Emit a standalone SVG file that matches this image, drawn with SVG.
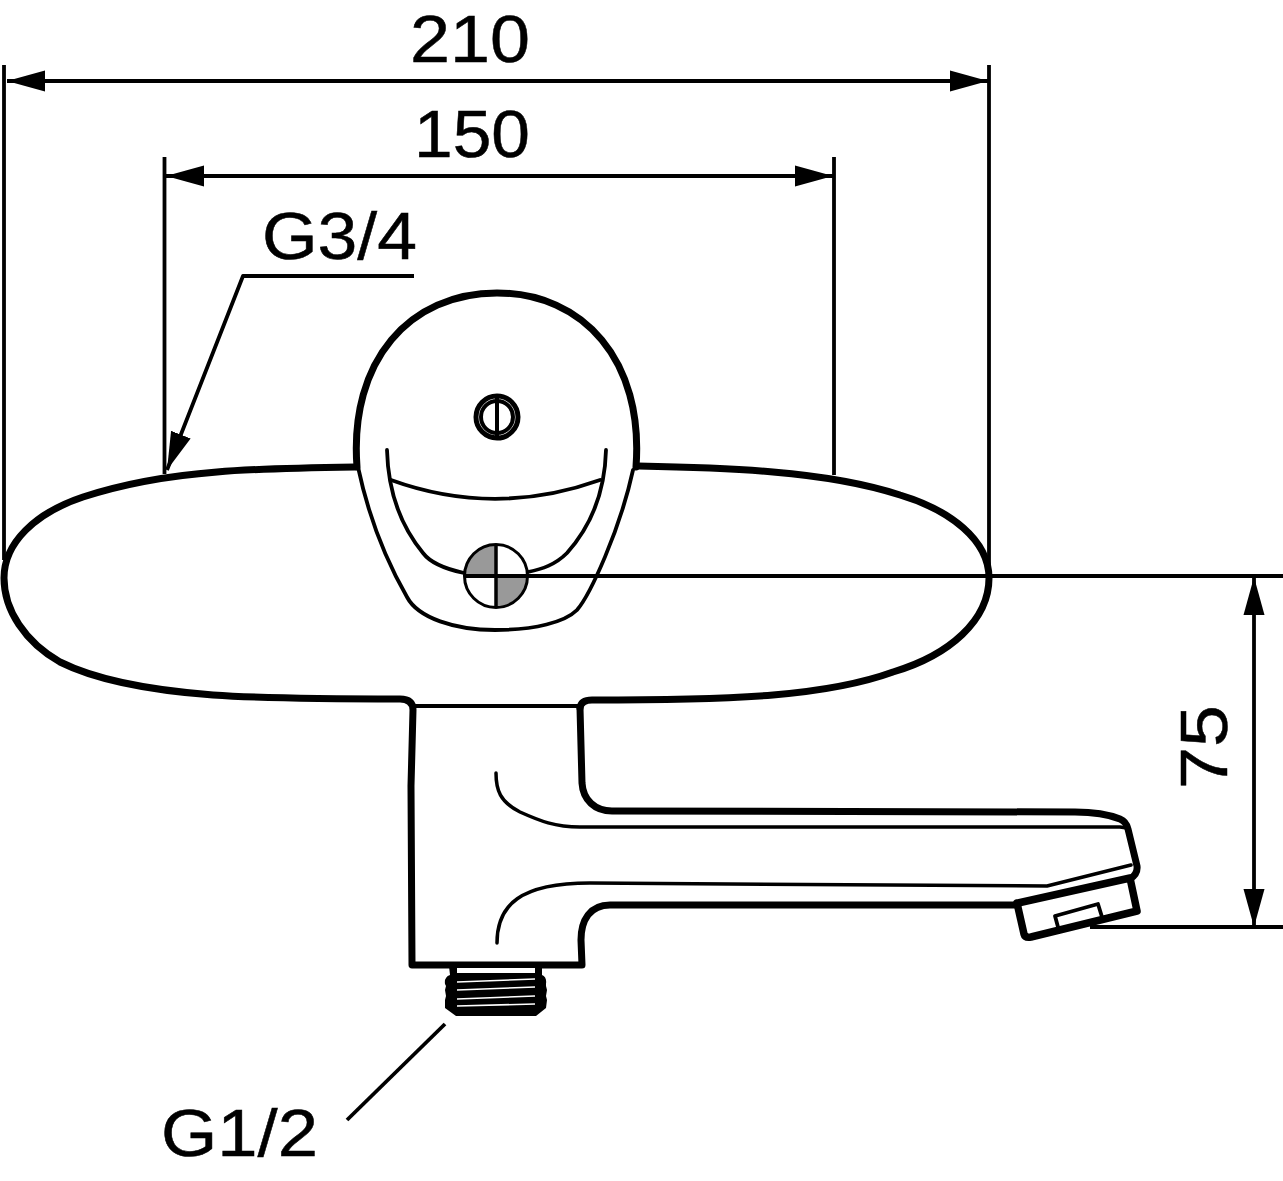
<svg xmlns="http://www.w3.org/2000/svg" width="1283" height="1181" viewBox="0 0 1283 1181">
<style>
text{font-family:"Liberation Sans",Arial,sans-serif;font-size:67px;fill:#000;stroke:#000;stroke-width:.5}
.thick,.mid,.thin,.dim,.tip{fill:none;stroke:#000;stroke-linecap:round;stroke-linejoin:round}
.thick{stroke-width:7}.tip{stroke-width:7.500}.mid{stroke-width:3.800}.thin{stroke-width:3.500}.dim{stroke-width:3.800;stroke-linecap:butt}
</style>
<defs>
<marker id="arrow" markerUnits="userSpaceOnUse" markerWidth="40" markerHeight="24" refX="38" refY="12" orient="auto-start-reverse"><path d="M0 1.500L38 12L0 22.500Z" fill="#000"/></marker>
</defs>
<rect width="1283" height="1181" fill="#fff"/>
<g id="body">
<path class="thick" d="M355 467C290 468 250 469 217 472C165 476 120 485 83 497C35 513 4 543 4 578C4 610 25 642 60 662C100 682 160 691 213 695C270 699 340 699 400 699Q413 699 413 710L411 786L412 965L582 965L581 940C581 920 590 905 610 905L1018 905"/>
<path class="thick" d="M580 708Q581 700 592 700C660 700 720 699 773 695C820 691 860 684 893 672C950 655 989 620 989 578C989 540 950 510 900 495C860 482 820 476 773 472C730 468 690 467 638 466"/>
<path class="thick" d="M580 708L582 783C583 800 595 811 612 811L1075 812C1095 812 1110 815 1120 819C1125 821 1127 825 1128 829L1137 866Q1138 874 1130 879"/>
<path class="mid" d="M414 706H579"/>
<path class="thin" d="M496 773C496 790 500 802 520 812C540 821 555 827 580 827H1120L1127 828"/>
<path class="thin" d="M497 943C497 905 520 883 590 883L1047 886L1131 865"/>
</g>
<g id="knob">
<path class="thick" d="M357 467C349 360 410 293 497 293C583 293 644 360 636 467"/>
<path class="mid" d="M358 467C365 500 380 550 407 597C418 618 455 630 495 630C535 630 565 622 577 610C590 595 620 530 633 470"/>
<path class="mid" d="M387 450C388 490 400 525 423 553C432 565 450 570 464 573"/>
<path class="mid" d="M606 450C605 490 592 525 567 553C555 565 542 569 528 572"/>
<path class="mid" d="M391 480C460 505 530 505 600 480"/>
</g>
<g id="screw">
<circle cx="497" cy="417" r="21" fill="none" stroke="#000" stroke-width="5"/>
<circle cx="497" cy="417" r="16" fill="none" stroke="#000" stroke-width="4"/>
<path d="M497 397V437" stroke="#000" stroke-width="4"/>
</g>
<g id="dial">
<circle cx="496" cy="576" r="31.500" fill="#fff"/>
<path d="M496 576V544.500A31.500 31.500 0 0 0 464.500 576Z" fill="#999"/>
<path d="M496 576V607.500A31.500 31.500 0 0 0 527.500 576Z" fill="#999"/>
<circle cx="496" cy="576" r="31.500" fill="none" stroke="#000" stroke-width="3"/>
<path d="M496 544V608" stroke="#000" stroke-width="3.500"/>
</g>
<g id="spout-tip">
<path class="tip" d="M1017 903L1024 934Q1025 938 1031 937L1137 911L1130 878L1018 903" fill="#fff"/>
<path class="mid" d="M1055 916L1098 904L1102 917M1055 916L1058 927"/>
</g>
<g id="thread">
<path d="M449 966H542V975Q547 977 546 984V986L547 990L546 996L547 1000L546 1008L536 1016H456L445 1008V1000L446 996L445 990L446 986L445 984Q444 977 450 975Z" fill="#000"/>
<path d="M457 968H535V973H457Z" fill="#fff"/>
<path d="M457 982L535 979M457 990L535 987M457 999L535 996M457 1006L535 1004" stroke="#fff" stroke-width="1.600" fill="none"/>
</g>
<g id="connectors">
<path class="dim" d="M4 65V560M989 65V570M164.500 157V474M834 157V475"/>
<path class="dim" d="M7 81H988" marker-start="url(#arrow)" marker-end="url(#arrow)"/>
<path class="dim" d="M166 176H833" marker-start="url(#arrow)" marker-end="url(#arrow)"/>
<path class="dim" d="M414 276H243L167 470" marker-end="url(#arrow)"/>
<path class="dim" d="M464 576H1283M1090 927H1283"/>
<path class="dim" d="M1254 577V927" marker-start="url(#arrow)" marker-end="url(#arrow)"/>
<path class="dim" d="M445 1024L347 1120"/>
</g>
<g id="labels">
<text x="410" y="62" textLength="120" lengthAdjust="spacingAndGlyphs">210</text>
<text x="414" y="157" textLength="116" lengthAdjust="spacingAndGlyphs">150</text>
<text x="262" y="259" textLength="155" lengthAdjust="spacingAndGlyphs">G3/4</text>
<text x="161" y="1156" textLength="157" lengthAdjust="spacingAndGlyphs">G1/2</text>
<text transform="translate(1227 789) rotate(-90)" textLength="84" lengthAdjust="spacingAndGlyphs">75</text>
</g>
</svg>
